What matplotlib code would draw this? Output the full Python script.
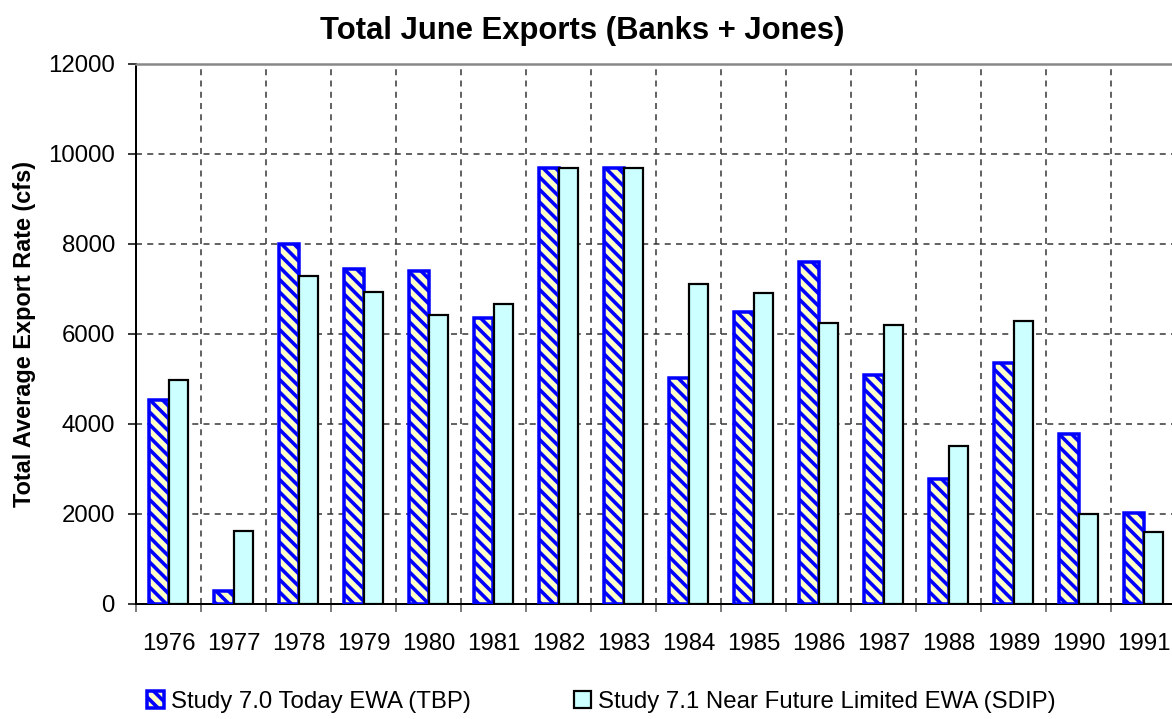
import matplotlib
matplotlib.use("Agg")
import matplotlib.pyplot as plt
import numpy as np

years = ["1976", "1977", "1978", "1979", "1980", "1981", "1982", "1983",
         "1984", "1985", "1986", "1987", "1988", "1989", "1990", "1991"]
study70 = [4540, 280, 8000, 7440, 7400, 6360, 9700, 9700,
           5020, 6480, 7600, 5080, 2780, 5350, 3770, 2020]
study71 = [4980, 1620, 7290, 6930, 6420, 6670, 9700, 9700,
           7110, 6910, 6240, 6200, 3520, 6290, 2000, 1600]
label70 = "Study 7.0 Today EWA (TBP)"
label71 = "Study 7.1 Near Future Limited EWA (SDIP)"

DPI = 150
def pt(px):
    # pixel sizes -> points
    return px * 72 / DPI

plt.rcParams["font.family"] = ["Liberation Sans", "DejaVu Sans"]
plt.rcParams["hatch.linewidth"] = pt(3.6)

fig = plt.figure(figsize=(1172 / DPI, 719 / DPI), dpi=DPI)
ax = fig.add_axes([136 / 1172, 1 - 604 / 719, 1040 / 1172, 540 / 719])

x = np.arange(len(years))
w = 0.30
ax.bar(x - w / 2, study70, width=w, color="#FFFFC8", edgecolor="#0000FF",
       hatch="\\\\\\\\", linewidth=pt(3.5), label=label70, zorder=3)
ax.bar(x + w / 2, study71, width=w, color="#CCFFFF", edgecolor="black",
       linewidth=pt(2.2), label=label71, zorder=3)

ax.set_xlim(-0.5, len(years) - 0.5)
ax.set_ylim(0, 12000)
ax.set_yticks(np.arange(0, 12001, 2000))

# ticks and vertical grid at category boundaries, labels at centres
ax.set_xticks(np.arange(-0.5, len(years), 1.0))
ax.set_xticklabels([])
ax.set_xticks(x, minor=True)
ax.set_xticklabels(years, minor=True)
ax.tick_params(axis="x", which="minor", length=0, pad=pt(29), labelsize=pt(24))
ax.tick_params(axis="x", which="major", length=pt(8), width=pt(1.5), color="#555555")
ax.tick_params(axis="y", length=pt(8), width=pt(1.5), color="black", pad=pt(13), labelsize=pt(24))

ax.set_axisbelow(True)
ax.grid(True, which="major", color="#333333", linewidth=pt(1.5), linestyle=(0, (4, 3.5)))

for s in ["left", "bottom"]:
    ax.spines[s].set_color("black")
    ax.spines[s].set_linewidth(pt(2))
for s in ["top", "right"]:
    ax.spines[s].set_color("#888888")
    ax.spines[s].set_linewidth(pt(2.5))

ax.set_ylabel("Total Average Export Rate (cfs)", fontsize=pt(23.5), fontweight="bold", labelpad=pt(12))
fig.text(582 / 1172, 1 - 31 / 719, "Total June Exports (Banks + Jones)",
         ha="center", va="center", fontsize=pt(31), fontweight="bold")

fig.legend(loc="center left", bbox_to_anchor=(147 / 1172, 1 - 702 / 719),
           ncol=2, frameon=False, borderpad=0, fontsize=pt(24),
           handlelength=0.7, handleheight=0.7, handletextpad=0.3,
           columnspacing=4.3, borderaxespad=0)

fig.savefig("out.png", dpi=DPI)
